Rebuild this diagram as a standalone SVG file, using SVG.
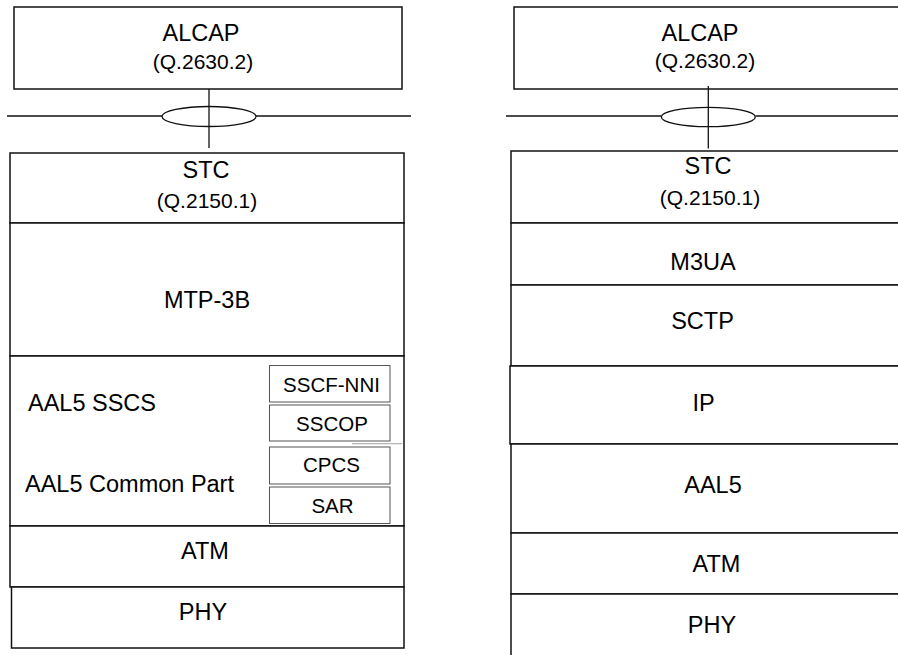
<svg xmlns="http://www.w3.org/2000/svg" width="898" height="655" viewBox="0 0 898 655">
<style>
  .box { fill: #fff; stroke: #111; stroke-width: 1.5; }
  .sub { fill: #fff; stroke: #555; stroke-width: 1; }
  .ln { stroke: #111; stroke-width: 1.3; fill: none; }
  .dot { stroke: #666; stroke-width: 1.2; stroke-dasharray: 1 1; }
  text { font-family: "Liberation Sans", Arial, sans-serif; fill: #000; text-anchor: middle; }
  .m { font-size: 23.5px; }
  .p { font-size: 21px; }
  .s { font-size: 20.5px; }
  .l { text-anchor: start; }
</style>
<rect width="898" height="655" fill="#fff"/>

<!-- Left stack -->
<g id="l-alcap"><rect class="box" x="14" y="7" width="388" height="82"/><text class="m" x="201" y="40.5">ALCAP</text><text class="p" x="203" y="69">(Q.2630.2)</text></g>
<g id="l-stc"><rect class="box" x="10" y="153" width="394" height="70"/><text class="m" x="206" y="178">STC</text><text class="p" x="207" y="208">(Q.2150.1)</text></g>
<g id="l-mtp3b"><rect class="box" x="10" y="223" width="394" height="133"/><text class="m" x="207" y="307.5">MTP-3B</text></g>
<g id="l-aal5"><rect class="box" x="10" y="356" width="394" height="170"/><text class="m l" x="28" y="410.5">AAL5 SSCS</text><text class="m l" x="25" y="492">AAL5 Common Part</text></g>
<g id="l-sscfnni"><rect class="sub" x="269.5" y="365.5" width="120.5" height="36.5"/><text class="s" x="331.5" y="391.5">SSCF-NNI</text></g>
<g id="l-sscop"><rect class="sub" x="269.5" y="405" width="120.5" height="36"/><text class="s" x="332" y="430.5">SSCOP</text></g>
<g id="l-cpcs"><rect class="sub" x="269.5" y="447" width="120.5" height="37"/><text class="s" x="331.5" y="471.5">CPCS</text></g>
<g id="l-sar"><rect class="sub" x="269.5" y="487" width="120.5" height="36.5"/><text class="s" x="332.5" y="513">SAR</text></g>
<line class="dot" x1="352.5" y1="443.7" x2="402" y2="443.7"/>
<g id="l-atm"><rect class="box" x="10" y="526" width="394" height="61"/><text class="m" x="205" y="559">ATM</text></g>
<g id="l-phy"><rect class="box" x="11.5" y="587" width="392.5" height="61"/><text class="m" x="203" y="620">PHY</text></g>

<!-- Right stack -->
<g id="r-alcap"><rect class="box" x="514" y="7" width="400" height="82"/><text class="m" x="700" y="40.5">ALCAP</text><text class="p" x="705" y="68">(Q.2630.2)</text></g>
<g id="r-stc"><rect class="box" x="511" y="151" width="404" height="72"/><text class="m" x="708" y="174">STC</text><text class="p" x="710" y="205">(Q.2150.1)</text></g>
<g id="r-m3ua"><rect class="box" x="511" y="223" width="404" height="62"/><text class="m" x="703" y="270">M3UA</text></g>
<g id="r-sctp"><rect class="box" x="511" y="285" width="404" height="81"/><text class="m" x="702.5" y="329">SCTP</text></g>
<g id="r-ip"><rect class="box" x="510" y="366" width="405" height="78"/><text class="m" x="703.5" y="411">IP</text></g>
<g id="r-aal5"><rect class="box" x="511" y="444" width="404" height="89"/><text class="m" x="713" y="493">AAL5</text></g>
<g id="r-atm"><rect class="box" x="511" y="533" width="404" height="61"/><text class="m" x="716.5" y="571.5">ATM</text></g>
<g id="r-phy"><rect class="box" x="511" y="594" width="404" height="80"/><text class="m" x="712" y="633">PHY</text></g>

<!-- Connectors -->
<g id="connectors">
  <line class="ln" x1="7" y1="116" x2="162" y2="116"/>
  <line class="ln" x1="256" y1="116" x2="411" y2="116"/>
  <ellipse class="ln" cx="209" cy="116.5" rx="47" ry="10"/>
  <line class="ln" x1="209" y1="89" x2="209" y2="148"/>
  <line class="ln" x1="506" y1="116" x2="661" y2="116"/>
  <line class="ln" x1="755.5" y1="116" x2="898" y2="116"/>
  <ellipse class="ln" cx="708.3" cy="117" rx="47" ry="9.7"/>
  <line class="ln" x1="708.3" y1="86" x2="708.3" y2="148.5"/>
</g>
</svg>
